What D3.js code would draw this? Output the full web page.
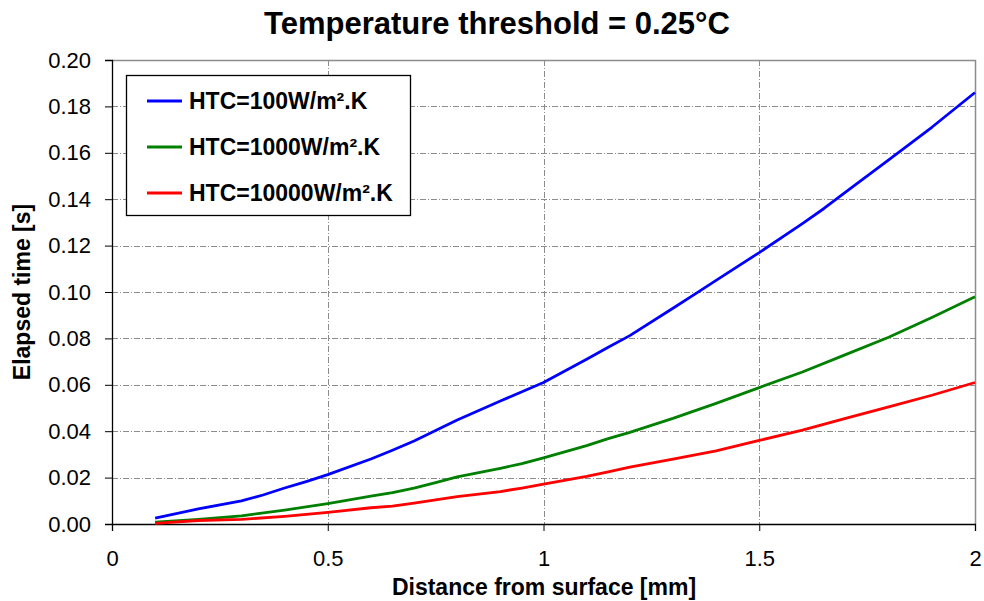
<!DOCTYPE html>
<html>
<head>
<meta charset="utf-8" />
<style>
  body { margin: 0; background: white; }
  svg { font-family: "Liberation Sans", Arial, sans-serif; }
</style>
<script src="https://cdnjs.cloudflare.com/ajax/libs/d3/7.8.5/d3.min.js"></script>
</head>
<body>
<div id="graph"></div>
<script>
// distance from surface [mm]
var distBlue = [0.1, 0.2, 0.3, 0.35, 0.4, 0.45, 0.5, 0.6, 0.65, 0.7, 0.8, 0.9, 1.0, 1.1, 1.15, 1.2, 1.3, 1.35, 1.4, 1.5, 1.6, 1.65, 1.7, 1.8, 1.9, 2.0];
var htc100 = [0.0025, 0.0065, 0.0100, 0.0125, 0.0155, 0.0183, 0.0213, 0.0280, 0.0318, 0.0358, 0.0448, 0.0530, 0.0610, 0.0710, 0.0762, 0.0812, 0.0930, 0.0990, 0.1050, 0.1170, 0.1295, 0.1360, 0.1430, 0.1570, 0.1710, 0.1860];

var distOther = [0.1, 0.2, 0.3, 0.4, 0.5, 0.6, 0.65, 0.7, 0.75, 0.8, 0.9, 0.95, 1.0, 1.1, 1.15, 1.2, 1.3, 1.4, 1.5, 1.6, 1.7, 1.8, 1.9, 2.0];
var htc1000 = [0.0008, 0.0020, 0.0035, 0.0060, 0.0088, 0.0120, 0.0135, 0.0155, 0.0178, 0.0203, 0.0240, 0.0260, 0.0285, 0.0338, 0.0368, 0.0395, 0.0455, 0.0520, 0.0588, 0.0655, 0.0730, 0.0805, 0.0890, 0.0980];
var htc10000 = [0.0003, 0.0015, 0.0020, 0.0033, 0.0050, 0.0070, 0.0077, 0.0090, 0.0104, 0.0118, 0.0140, 0.0155, 0.0172, 0.0205, 0.0225, 0.0245, 0.0280, 0.0315, 0.0360, 0.0405, 0.0455, 0.0505, 0.0555, 0.0610];

var seriesNames = ["HTC=100W/m\u00B2.K", "HTC=1000W/m\u00B2.K", "HTC=10000W/m\u00B2.K"];
var seriesColors = ["#0000ff", "#008000", "#ff0000"];
var xTicks = [0, 0.5, 1, 1.5, 2];
var yTicks = [0, 0.02, 0.04, 0.06, 0.08, 0.10, 0.12, 0.14, 0.16, 0.18, 0.20];

var series = [
  { name: seriesNames[0], color: seriesColors[0], values: distBlue.map(function (d, i) { return [d, htc100[i]]; }) },
  { name: seriesNames[1], color: seriesColors[1], values: distOther.map(function (d, i) { return [d, htc1000[i]]; }) },
  { name: seriesNames[2], color: seriesColors[2], values: distOther.map(function (d, i) { return [d, htc10000[i]]; }) }
];

var W = 984, H = 601;
var plotL = 112, plotR = 975, plotT = 60, plotB = 524;

var svg = d3.select("#graph").append("svg")
  .attr("width", W)
  .attr("height", H);

var xScale = d3.scaleLinear().domain([0, 2]).range([plotL, plotR]);
var yScale = d3.scaleLinear().domain([0, 0.2]).range([plotB, plotT]);

// grid, dash-dot
var grid = svg.append("g").attr("stroke", "#8c8c8c").attr("stroke-width", 1).attr("stroke-dasharray", "6,2,1,2");
grid.selectAll("line.h").data(yTicks.slice(1, -1)).enter().append("line")
  .attr("x1", plotL).attr("x2", plotR)
  .attr("y1", function (d) { return Math.round(yScale(d)) + 0.5; })
  .attr("y2", function (d) { return Math.round(yScale(d)) + 0.5; });
grid.selectAll("line.v").data(xTicks.slice(1, -1)).enter().append("line")
  .attr("y1", plotT).attr("y2", plotB)
  .attr("x1", function (d) { return Math.round(xScale(d)) + 0.5; })
  .attr("x2", function (d) { return Math.round(xScale(d)) + 0.5; });

// gray frame top and right
svg.append("path")
  .attr("d", "M" + plotL + "," + (plotT + 0.5) + "H" + (plotR + 0.5) + "V" + plotB)
  .attr("fill", "none").attr("stroke", "#8c8c8c").attr("stroke-width", 1.5);

// axes
var xAxis = d3.axisBottom(xScale).tickValues(xTicks).tickSize(7).tickPadding(19)
  .tickFormat(function (d) { return d3.format("")(d); });
var yAxis = d3.axisLeft(yScale).tickValues(yTicks).tickSize(7).tickPadding(14)
  .tickFormat(d3.format(".2f"));

var gx = svg.append("g").attr("transform", "translate(0," + plotB + ")").call(xAxis);
var gy = svg.append("g").attr("transform", "translate(" + plotL + ",0)").call(yAxis);
[gx, gy].forEach(function (g) {
  g.select(".domain").attr("stroke", "#000").attr("stroke-width", 1.3);
  g.selectAll(".tick line").attr("stroke", "#000");
  g.selectAll(".tick text").attr("fill", "#000").style("font-size", "22px")
    .style("font-family", "'Liberation Sans', Arial, sans-serif");
});

// lines
var line = d3.line()
  .x(function (d) { return xScale(d[0]); })
  .y(function (d) { return yScale(d[1]); });

svg.selectAll("path.series").data(series).enter().append("path")
  .attr("class", "series")
  .attr("d", function (d) { return line(d.values); })
  .attr("fill", "none")
  .attr("stroke", function (d) { return d.color; })
  .attr("stroke-width", 2.8)
  .attr("stroke-linejoin", "round");

// titles
svg.append("text")
  .attr("x", 497).attr("y", 34)
  .attr("text-anchor", "middle")
  .style("font-size", "31px").style("font-weight", "bold")
  .text("Temperature threshold = 0.25\u00B0C");

svg.append("text")
  .attr("x", 544).attr("y", 595)
  .attr("text-anchor", "middle")
  .style("font-size", "23px").style("font-weight", "bold")
  .text("Distance from surface [mm]");

svg.append("text")
  .attr("transform", "translate(30," + ((plotT + plotB) / 2) + ") rotate(-90)")
  .attr("text-anchor", "middle")
  .style("font-size", "23px").style("font-weight", "bold")
  .text("Elapsed time [s]");

// legend
var legend = svg.append("g");
legend.append("rect")
  .attr("x", 126.5).attr("y", 75.5).attr("width", 284).attr("height", 140)
  .attr("fill", "white").attr("stroke", "#000").attr("stroke-width", 1.3);

var items = legend.selectAll("g.item").data(series).enter().append("g")
  .attr("transform", function (d, i) { return "translate(0," + (101 + i * 46) + ")"; });
items.append("line")
  .attr("x1", 147).attr("x2", 182).attr("y1", 0).attr("y2", 0)
  .attr("stroke", function (d) { return d.color; }).attr("stroke-width", 2.8);
items.append("text")
  .attr("x", 189).attr("y", 8)
  .style("font-size", "23px").style("font-weight", "bold")
  .text(function (d) { return d.name; });
</script>
</body>
</html>
